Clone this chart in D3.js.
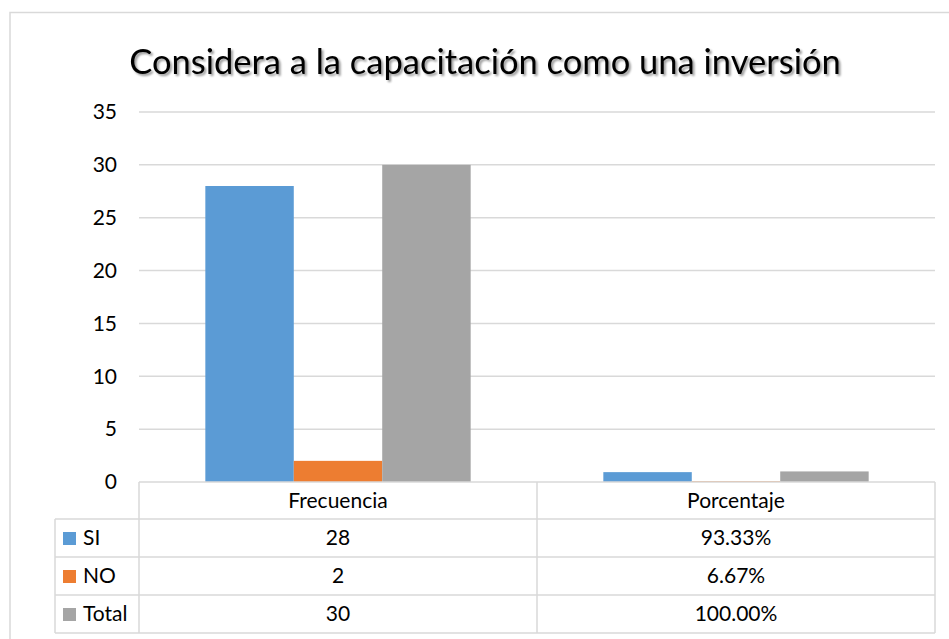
<!DOCTYPE html>
<html>
<head>
<meta charset="utf-8">
<script src="https://cdn.jsdelivr.net/npm/d3@7"></script>
<style>
  body { margin: 0; background: #fff; }
  svg { display: block; font-family: Lato, "Open Sans", sans-serif; }
</style>
</head>
<body>
<svg id="chart" width="949" height="639"></svg>
<script>
// Considera a la capacitación como una inversión - column chart with data table

const title = 'Considera a la capacitación como una inversión';
const categories = ['Frecuencia', 'Porcentaje'];
const seriesNames = ['SI', 'NO', 'Total'];
const siValues = [28, 0.9333];
const noValues = [2, 0.0667];
const totalValues = [30, 1.0];
const yTicks = [0, 5, 10, 15, 20, 25, 30, 35];
const colors = ['#5b9bd5', '#ed7d31', '#a5a5a5'];

const seriesValues = [siValues, noValues, totalValues];
const cellFormat = [d3.format('d'), d3.format('.2%')];

const svg = d3.select('#chart');
const plot = { left: 139, right: 935, top: 112, bottom: 482 };
const rowH = 38;
const headH = 37;
const legendLeft = 55;
const fs = 21;

// chart frame (only top and left edge visible)
svg.append('path')
  .attr('d', 'M10,639 L10,12.5 L949,12.5')
  .attr('fill', 'none')
  .attr('stroke', '#d9d9d9')
  .attr('stroke-width', 1.5);

// title shadow
const defs = svg.append('defs');
const f = defs.append('filter').attr('id', 'shadow')
  .attr('x', '-5%').attr('y', '-20%').attr('width', '110%').attr('height', '150%');
f.append('feGaussianBlur').attr('in', 'SourceAlpha').attr('stdDeviation', 1.2).attr('result', 'b');
f.append('feOffset').attr('in', 'b').attr('dx', 2).attr('dy', 2).attr('result', 'o');
f.append('feComponentTransfer').attr('in', 'o').attr('result', 'o2')
  .append('feFuncA').attr('type', 'linear').attr('slope', 0.4);
const fm = f.append('feMerge');
fm.append('feMergeNode').attr('in', 'o2');
fm.append('feMergeNode').attr('in', 'SourceGraphic');

svg.append('text')
  .attr('x', 485)
  .attr('y', 74)
  .attr('text-anchor', 'middle')
  .attr('font-size', 34.5)
  .attr('fill', '#000')
  .attr('filter', 'url(#shadow)')
  .text(title);

let y = d3.scaleLinear().domain([0, 35]).range([plot.bottom, plot.top]);

let x0 = d3.scaleBand()
  .domain(categories)
  .range([plot.left, plot.right]);

// gap width 150%: bars take 3 / 4.5 of each band
const bw = x0.bandwidth();
let x1 = d3.scaleBand()
  .domain(seriesNames)
  .range([bw * 0.75 / 4.5, bw - bw * 0.75 / 4.5]);

// gridlines
svg.append('g')
  .selectAll('line')
  .data(yTicks.filter(d => d > 0))
  .join('line')
  .attr('x1', plot.left)
  .attr('x2', plot.right)
  .attr('y1', d => y(d))
  .attr('y2', d => y(d))
  .attr('stroke', '#d9d9d9')
  .attr('stroke-width', 1.5);

// y axis labels
const yAxis = svg.append('g')
  .attr('transform', 'translate(' + (plot.left - 10) + ',0)')
  .call(d3.axisLeft(y).tickValues(yTicks).tickSize(0).tickPadding(12));
yAxis.select('.domain').remove();
yAxis.selectAll('text')
  .attr('font-size', fs)
  .attr('font-family', 'Lato, "Open Sans", sans-serif')
  .attr('fill', '#000');

// bars
const groups = svg.append('g')
  .selectAll('g')
  .data(categories)
  .join('g')
  .attr('transform', d => 'translate(' + x0(d) + ',0)');

groups.selectAll('rect')
  .data((c, ci) => seriesNames.map((s, si) => ({ s: s, i: si, v: seriesValues[si][ci] })))
  .join('rect')
  .attr('x', d => x1(d.s))
  .attr('width', x1.bandwidth())
  .attr('y', d => y(d.v))
  .attr('height', d => y(0) - y(d.v))
  .attr('fill', d => colors[d.i]);

// data table
const table = svg.append('g')
  .attr('stroke', '#d9d9d9')
  .attr('stroke-width', 1.5)
  .attr('fill', 'none');

const rowTops = seriesNames.map((s, i) => plot.bottom + headH + i * rowH);
const tableBottom = plot.bottom + headH + seriesNames.length * rowH;

table.append('line')
  .attr('x1', plot.left).attr('x2', plot.right)
  .attr('y1', plot.bottom).attr('y2', plot.bottom);

table.selectAll('.row')
  .data(rowTops.concat([tableBottom]))
  .join('line')
  .attr('class', 'row')
  .attr('x1', legendLeft).attr('x2', plot.right)
  .attr('y1', d => d).attr('y2', d => d);

table.selectAll('.col')
  .data(categories.map(c => x0(c)).concat([plot.right]))
  .join('line')
  .attr('class', 'col')
  .attr('x1', d => d).attr('x2', d => d)
  .attr('y1', plot.bottom).attr('y2', tableBottom);

table.append('line')
  .attr('x1', legendLeft).attr('x2', legendLeft)
  .attr('y1', rowTops[0]).attr('y2', tableBottom);

// header labels
svg.append('g')
  .selectAll('text')
  .data(categories)
  .join('text')
  .attr('x', d => x0(d) + bw / 2)
  .attr('y', plot.bottom + headH / 2 + 7)
  .attr('text-anchor', 'middle')
  .attr('font-size', fs)
  .attr('fill', '#000')
  .text(d => d);

// legend keys + names
const legend = svg.append('g')
  .selectAll('g')
  .data(seriesNames)
  .join('g')
  .attr('transform', (d, i) => 'translate(' + (legendLeft + 8) + ',' + rowTops[i] + ')');

legend.append('rect')
  .attr('y', rowH / 2 - 6)
  .attr('width', 13)
  .attr('height', 13)
  .attr('fill', (d, i) => colors[i]);

legend.append('text')
  .attr('x', 20)
  .attr('y', rowH / 2 + 7)
  .attr('font-size', fs)
  .attr('fill', '#000')
  .text(d => d);

// cell values
seriesNames.forEach((s, si) => {
  svg.append('g')
    .selectAll('text')
    .data(categories)
    .join('text')
    .attr('x', d => x0(d) + bw / 2)
    .attr('y', rowTops[si] + rowH / 2 + 7)
    .attr('text-anchor', 'middle')
    .attr('font-size', fs)
    .attr('fill', '#000')
    .text((d, ci) => cellFormat[ci](seriesValues[si][ci]));
});
</script>
</body>
</html>
